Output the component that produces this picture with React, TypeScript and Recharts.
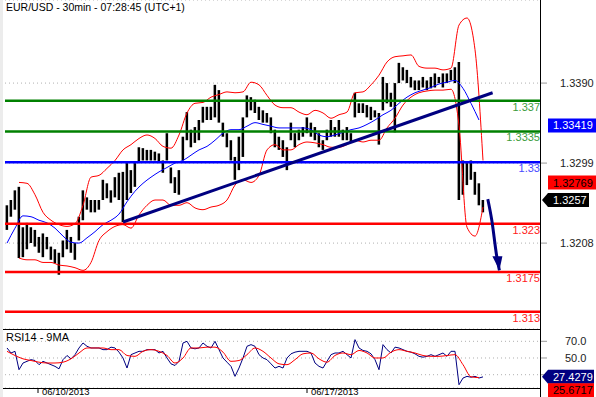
import React from 'react';
import {
  ComposedChart,
  Bar,
  Line,
  XAxis,
  YAxis,
  CartesianGrid,
  ReferenceLine,
  ReferenceDot,
} from 'recharts';

const FONT = '"Liberation Sans", Arial, sans-serif';

// EUR/USD 30min, one sample per couple of candles (index k)
const barHigh = [
  1.3251, 1.3257, 1.3268, 1.3272, 1.3226, 1.3231, 1.3226, 1.3223, 1.3215, 1.3219,
  1.3215, 1.3204, 1.3201, 1.3197, 1.3211, 1.3223, 1.3215, 1.3208, 1.3238, 1.3268,
  1.326, 1.3257, 1.3257, 1.3257, 1.328, 1.3276, 1.3268, 1.3283, 1.3288, 1.3289,
  1.3299, 1.3291, 1.3299, 1.3317, 1.3316, 1.3314, 1.3314, 1.3312, 1.331, 1.3302,
  1.3333, 1.3294, 1.3283, 1.3291, 1.3329, 1.3357, 1.3337, 1.334, 1.3348, 1.3363,
  1.3363, 1.3363, 1.3388, 1.3382, 1.3345, 1.3333, 1.3325, 1.3306, 1.3329, 1.3351,
  1.3376, 1.3374, 1.3371, 1.3363, 1.3359, 1.3356, 1.3351, 1.3337, 1.3329, 1.3325,
  1.3317, 1.3345, 1.3333, 1.3337, 1.334, 1.3351, 1.3345, 1.334, 1.3333, 1.3325,
  1.3337, 1.3348, 1.334, 1.3348, 1.3337, 1.334, 1.3333, 1.3379, 1.3367, 1.3367,
  1.3365, 1.3363, 1.3359, 1.3356, 1.3397, 1.339, 1.3379, 1.339, 1.3413, 1.3408,
  1.3405, 1.3397, 1.3393, 1.3393, 1.3397, 1.3393, 1.3397, 1.3401, 1.3397, 1.3401,
  1.3401, 1.3405, 1.3408, 1.3414, 1.3302, 1.3299, 1.3302, 1.3289, 1.3276, 1.3257,
];
const barLow = [
  1.3223, 1.3238, 1.3246, 1.3191, 1.3192, 1.3201, 1.3208, 1.3204, 1.3197, 1.3192,
  1.3201, 1.3189, 1.3185, 1.3172, 1.3192, 1.3201, 1.3197, 1.3189, 1.3211, 1.3234,
  1.3246, 1.3243, 1.3243, 1.3246, 1.3257, 1.3259, 1.3254, 1.326, 1.3257, 1.3232,
  1.3257, 1.3265, 1.3272, 1.3299, 1.3302, 1.3302, 1.3302, 1.3302, 1.3299, 1.3288,
  1.3302, 1.3276, 1.3265, 1.3263, 1.3302, 1.3325, 1.3317, 1.3322, 1.3325, 1.3345,
  1.3348, 1.3348, 1.3351, 1.3345, 1.3329, 1.3317, 1.3302, 1.328, 1.3291, 1.3306,
  1.3351, 1.3359, 1.3356, 1.3348, 1.3345, 1.3345, 1.3333, 1.3317, 1.3314, 1.3306,
  1.3291, 1.3325, 1.3317, 1.3325, 1.3329, 1.3333, 1.3329, 1.3325, 1.3317, 1.3314,
  1.3325, 1.3329, 1.3329, 1.3329, 1.3325, 1.3325, 1.3323, 1.3351, 1.3356, 1.3356,
  1.3351, 1.3348, 1.3351, 1.332, 1.3359, 1.3367, 1.3363, 1.3334, 1.339, 1.3393,
  1.339, 1.3385, 1.3382, 1.3382, 1.3385, 1.3382, 1.3384, 1.3385, 1.339, 1.3385,
  1.339, 1.3393, 1.339, 1.3257, 1.3263, 1.3274, 1.328, 1.3263, 1.3251, 1.3243,
];

// bollinger bands, sampled at k = 3, 5, 7 ...
const bandUpper = [
  1.3277, 1.3276, 1.3263, 1.3243, 1.3234, 1.3229, 1.3227, 1.323, 1.3251, 1.3283,
  1.3285, 1.3293, 1.3302, 1.3314, 1.332, 1.3327, 1.3331, 1.3327, 1.3318, 1.3316,
  1.3331, 1.3356, 1.3367, 1.3368, 1.3374, 1.3377, 1.338, 1.3379, 1.338, 1.3391,
  1.3388, 1.3376, 1.3365, 1.3362, 1.3362, 1.3357, 1.3354, 1.3359, 1.3356, 1.335,
  1.3354, 1.3357, 1.3379, 1.338, 1.3388, 1.3399, 1.3414, 1.342, 1.3421, 1.3422,
  1.3409, 1.3407, 1.3407, 1.3405, 1.3407, 1.3456, 1.3464, 1.3428, 1.3302,
];
const bandLower = [
  1.3191, 1.3189, 1.3189, 1.3186, 1.3186, 1.3183, 1.3182, 1.318, 1.3177, 1.3186,
  1.3211, 1.3221, 1.3227, 1.3229, 1.3225, 1.324, 1.3251, 1.3257, 1.3257, 1.3251,
  1.3251, 1.3254, 1.3248, 1.3246, 1.3249, 1.3251, 1.3257, 1.3274, 1.328, 1.3277,
  1.3285, 1.3314, 1.332, 1.3314, 1.3314, 1.332, 1.3323, 1.3322, 1.332, 1.3317,
  1.3317, 1.332, 1.3325, 1.3323, 1.3325, 1.3325, 1.3339, 1.335, 1.3365, 1.3374,
  1.3379, 1.3381, 1.3382, 1.3382, 1.3383, 1.3342, 1.3226, 1.3216, 1.3249,
];
// moving average, sampled at k = 0, 2, 4 ...
const maLine = [
  1.3208, 1.3225, 1.3239, 1.3238, 1.3234, 1.3231, 1.3225, 1.3216, 1.3209, 1.3208,
  1.3214, 1.3221, 1.3229, 1.3234, 1.3241, 1.3255, 1.3267, 1.3276, 1.3283, 1.3289,
  1.3294, 1.3299, 1.3302, 1.3308, 1.3314, 1.3318, 1.3325, 1.3333, 1.3337, 1.3337,
  1.3341, 1.3345, 1.3343, 1.3341, 1.3339, 1.3339, 1.3339, 1.3339, 1.3337, 1.3331,
  1.3329, 1.3331, 1.3334, 1.3337, 1.3339, 1.3343, 1.3348, 1.3354, 1.3359, 1.3367,
  1.3374, 1.3379, 1.3382, 1.3385, 1.3389, 1.3391, 1.3393, 1.3384, 1.3367, 1.3348,
];

const rsi14 = [
  62, 56, 58, 36, 44, 46, 48, 47, 42, 46,
  44, 42, 40, 37, 48, 53, 49, 54, 62, 68,
  64, 62, 62, 62, 60, 60, 63, 62, 57, 50,
  38, 54, 56, 58, 58, 60, 60, 60, 56, 58,
  50, 43, 41, 46, 68, 70, 62, 61, 62, 68,
  64, 62, 70, 60, 50, 45, 40, 28, 38, 50,
  64, 66, 64, 54, 50, 48, 43, 38, 40, 38,
  50, 55, 57, 58, 58, 58, 56, 44, 40, 38,
  46, 54, 56, 56, 58, 54, 50, 72, 62, 59,
  58, 55, 48, 36, 66, 60, 56, 63, 62, 60,
  58, 57, 55, 52, 51, 52, 54, 52, 54, 56,
  52, 58, 58, 18, 26, 28, 27, 28, 26, 27.4,
];
const rsiMa9 = [
  58, 53, 49, 47, 45, 44, 44, 45, 49, 56,
  62, 62, 62, 60, 60, 53, 52, 58, 60, 58,
  53, 44, 50, 62, 62, 63, 63, 57, 46, 47,
  54, 62, 58, 50, 43, 42, 48, 55, 56, 49,
  45, 53, 56, 54, 59, 56, 50, 50, 57, 60,
  58, 56, 53, 52, 52, 53, 54, 42, 27.5, 26.5,
];

const priceTicks = [1.3208, 1.3299, 1.339];
const rsiTicks = [30, 50, 70];
const dateTicks = [7.75, 75];
const dateLabels = ['06/10/2013', '06/17/2013'];

const levels = [
  { value: 1.337, label: '1.337', color: '#008000', text: '#3c9c3c' },
  { value: 1.3335, label: '1.3335', color: '#008000', text: '#3c9c3c' },
  { value: 1.33, label: '1.33', color: '#0000ff', text: '#4a4aff' },
  { value: 1.323, label: '1.323', color: '#ff0000', text: '#ff2020' },
  { value: 1.3175, label: '1.3175', color: '#ff0000', text: '#ff2020' },
  { value: 1.313, label: '1.313', color: '#ff0000', text: '#ff2020' },
];

const trendLine = [
  { x: 29, y: 1.3232 },
  { x: 121.4, y: 1.3379 },
];
const arrowPath = [
  { k: 120.2, p: 1.3258 },
  { k: 121.2, p: 1.3234 },
  { k: 122.4, p: 1.3194 },
  { k: 123.1, p: 1.3177 },
];

const X_DOMAIN = [-0.5, 133.5];
const PRICE_DOMAIN = [1.31103, 1.34845];
const RSI_DOMAIN = [14.07, 84.73];

const priceData = barHigh.map((h, i) => ({ k: i, range: [barLow[i], h] }));
const bandData = bandUpper.map((u, i) => ({ k: 3 + 2 * i, up: u, dn: bandLower[i] }));
const maData = maLine.map((v, i) => ({ k: 2 * i, ma: v }));
const rsiData = rsi14.map((v, i) => ({ k: i, rsi: v }));
const rsiMaData = rsiMa9.map((v, i) => ({ k: 2 * i, ma: v }));

function Tag({ cx, cy, text, bg, fg, pointer, width, dy = 0 }: any) {
  const y = cy + dy;
  const left = cx + 7;
  const right = left + width;
  const h = 14;
  const d = pointer
    ? `M${cx + 1},${y} L${left},${y - h / 2} L${right},${y - h / 2} L${right},${y + h / 2} L${left},${y + h / 2} Z`
    : `M${left},${y - h / 2} L${right},${y - h / 2} L${right},${y + h / 2} L${left},${y + h / 2} Z`;
  return (
    <g>
      <path d={d} fill={bg} />
      <text x={left + 5} y={y + 4} fill={fg} fontSize={11} fontFamily={FONT}>
        {text}
      </text>
    </g>
  );
}

const ArrowHead = (props: any) => {
  const { cx, cy, index } = props;
  if (index !== arrowPath.length - 1) return <g key={`a${index}`} />;
  return (
    <polygon
      key="head"
      points={`${cx - 7},${cy - 14} ${cx + 3},${cy - 14} ${cx},${cy}`}
      fill="#000080"
    />
  );
};

const DateTick = ({ x, y, payload }: any) => {
  const i = dateTicks.indexOf(payload.value);
  return (
    <g>
      <line x1={x} y1={y} x2={x} y2={y + 5} stroke="#000" />
      <text x={x + 4} y={y + 7} fontSize={9.5} fontFamily={FONT} fill="#000">
        {dateLabels[i]}
      </text>
    </g>
  );
};

export default function App() {
  return (
    <div
      style={{
        position: 'absolute',
        left: 0,
        top: 0,
        width: 596,
        height: 397,
        background: '#fff',
        overflow: 'hidden',
        fontFamily: FONT,
      }}
    >
      <div style={{ position: 'absolute', left: 0, top: 0, width: 3, height: 397, background: '#ececec' }} />

      <div style={{ position: 'absolute', left: 0, top: 0 }}>
        <ComposedChart width={596} height={329} data={priceData} margin={{ top: 0, right: 0, bottom: 0, left: 5 }}>
          <CartesianGrid vertical={false} stroke="#b0b0b0" strokeDasharray="1 3" />
          <XAxis dataKey="k" type="number" domain={X_DOMAIN} allowDataOverflow hide />
          <YAxis
            orientation="right"
            width={55}
            domain={PRICE_DOMAIN}
            allowDataOverflow
            ticks={priceTicks}
            interval={0}
            tickFormatter={(v: number) => v.toFixed(4)}
            tick={{ fill: '#222', fontSize: 11, fontFamily: FONT }}
            tickSize={6}
            tickMargin={13}
            tickLine={{ stroke: '#999' }}
            axisLine={false}
          />
          <Bar dataKey="range" fill="#000" barSize={3} isAnimationActive={false} />
          <Line data={bandData} dataKey="up" type="monotone" stroke="#ff0000" strokeWidth={1} dot={false} isAnimationActive={false} />
          <Line data={bandData} dataKey="dn" type="monotone" stroke="#ff0000" strokeWidth={1} dot={false} isAnimationActive={false} />
          <Line data={maData} dataKey="ma" type="monotone" stroke="#0000ff" strokeWidth={1} dot={false} isAnimationActive={false} />
          {levels.map((l) => (
            <ReferenceLine key={l.label} y={l.value} stroke={l.color} strokeWidth={2.5} />
          ))}
          <ReferenceLine segment={trendLine} stroke="#000080" strokeWidth={3} ifOverflow="visible" />
          <Line
            data={arrowPath}
            dataKey="p"
            type="monotone"
            stroke="#000080"
            strokeWidth={3}
            dot={ArrowHead}
            isAnimationActive={false}
          />
          {levels.map((l) => (
            <ReferenceDot
              key={`t${l.label}`}
              x={X_DOMAIN[1]}
              y={l.value}
              r={1}
              ifOverflow="visible"
              shape={(p: any) => (
                <text x={p.cx - 1} y={p.cy + 10} textAnchor="end" fill={l.text} fontSize={11} fontFamily={FONT}>
                  {l.label}
                </text>
              )}
            />
          ))}
          <ReferenceDot
            x={X_DOMAIN[1]}
            y={1.33419}
            r={1}
            ifOverflow="visible"
            shape={(p: any) => <Tag cx={p.cx} cy={p.cy} text="1.33419" bg="#0000ff" fg="#fff" width={48} />}
          />
          <ReferenceDot
            x={X_DOMAIN[1]}
            y={1.32769}
            r={1}
            ifOverflow="visible"
            shape={(p: any) => <Tag cx={p.cx} cy={p.cy} text="1.32769" bg="#ff0000" fg="#000" width={48} />}
          />
          <ReferenceDot
            x={X_DOMAIN[1]}
            y={1.3257}
            r={1}
            ifOverflow="visible"
            shape={(p: any) => <Tag cx={p.cx} cy={p.cy} text="1.3257" bg="#000" fg="#fff" width={41} pointer />}
          />
        </ComposedChart>
      </div>

      <div style={{ position: 'absolute', left: 0, top: 329 }}>
        <ComposedChart width={596} height={68} data={rsiData} margin={{ top: 0, right: 0, bottom: 0, left: 5 }}>
          <CartesianGrid vertical={false} stroke="#b0b0b0" strokeDasharray="1 3" />
          <XAxis
            dataKey="k"
            type="number"
            domain={X_DOMAIN}
            allowDataOverflow
            ticks={dateTicks}
            interval={0}
            height={9}
            tickSize={0}
            tickMargin={0}
            tickLine={false}
            axisLine={false}
            tick={DateTick}
          />
          <YAxis
            orientation="right"
            width={55}
            domain={RSI_DOMAIN}
            allowDataOverflow
            ticks={rsiTicks}
            interval={0}
            tickFormatter={(v: number) => (v === 30 ? '' : v.toFixed(1))}
            tick={{ fill: '#222', fontSize: 11, fontFamily: FONT }}
            tickSize={6}
            tickMargin={18}
            tickLine={{ stroke: '#999' }}
            axisLine={false}
          />
          <Line dataKey="rsi" type="linear" stroke="#000080" strokeWidth={1} dot={false} isAnimationActive={false} />
          <Line data={rsiMaData} dataKey="ma" type="monotone" stroke="#ff0000" strokeWidth={1} dot={false} isAnimationActive={false} />
          <ReferenceDot
            x={X_DOMAIN[1]}
            y={27.4279}
            r={1}
            ifOverflow="visible"
            shape={(p: any) => <Tag cx={p.cx} cy={p.cy} text="27.4279" bg="#000080" fg="#fff" width={46} pointer />}
          />
          <ReferenceDot
            x={X_DOMAIN[1]}
            y={25.6717}
            r={1}
            ifOverflow="visible"
            shape={(p: any) => <Tag cx={p.cx} cy={p.cy} dy={12} text="25.6717" bg="#ff0000" fg="#000" width={46} />}
          />
        </ComposedChart>
      </div>

      <div style={{ position: 'absolute', left: 3, top: 329, width: 538, height: 1, background: '#000' }} />
      <div style={{ position: 'absolute', left: 3, top: 388, width: 538, height: 1, background: '#000' }} />
      <div style={{ position: 'absolute', left: 540, top: 0, width: 1, height: 397, background: '#000' }} />

      <div style={{ position: 'absolute', left: 6, top: 1, fontSize: 10.5, lineHeight: '12px', color: '#000' }}>
        EUR/USD - 30min - 07:28:45 (UTC+1)
      </div>
      <div style={{ position: 'absolute', left: 6, top: 331, fontSize: 11, lineHeight: '12px', color: '#000' }}>
        RSI14 - 9MA
      </div>
    </div>
  );
}
